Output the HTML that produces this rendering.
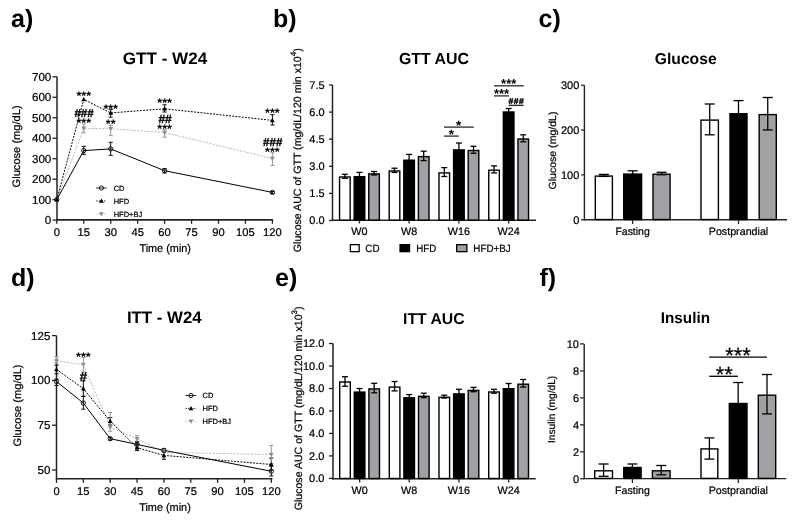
<!DOCTYPE html>
<html><head><meta charset="utf-8"><style>
html,body{margin:0;padding:0;background:#fff;}
svg{display:block;will-change:transform;}
text{font-family:"Liberation Sans", sans-serif;text-rendering:geometricPrecision;stroke:#000;stroke-width:0.22px;} text[font-weight=bold]{stroke-width:0;}
</style></head><body>
<svg width="793" height="520" viewBox="0 0 793 520">
<rect width="793" height="520" fill="#fff"/>
<text x="11" y="27" font-size="25" font-weight="bold" >a)</text>
<text x="273" y="27.2" font-size="25" font-weight="bold" >b)</text>
<text x="538.5" y="26.5" font-size="25" font-weight="bold" >c)</text>
<text x="11" y="286.2" font-size="25" font-weight="bold" >d)</text>
<text x="275" y="286.2" font-size="25" font-weight="bold" >e)</text>
<text x="539.5" y="285.7" font-size="25" font-weight="bold" >f)</text>
<line x1="57" y1="76.8" x2="57" y2="220.75" stroke="#222" stroke-width="1.5" />
<line x1="56.3" y1="219.95" x2="273.09999999999997" y2="219.95" stroke="#222" stroke-width="1.7" />
<line x1="52.5" y1="220.1" x2="57" y2="220.1" stroke="#222" stroke-width="1.3" />
<text x="51.3" y="224.2" font-size="11.6" text-anchor="end" >0</text>
<line x1="52.5" y1="199.63" x2="57" y2="199.63" stroke="#222" stroke-width="1.3" />
<text x="51.3" y="203.73" font-size="11.6" text-anchor="end" >100</text>
<line x1="52.5" y1="179.16" x2="57" y2="179.16" stroke="#222" stroke-width="1.3" />
<text x="51.3" y="183.26" font-size="11.6" text-anchor="end" >200</text>
<line x1="52.5" y1="158.69" x2="57" y2="158.69" stroke="#222" stroke-width="1.3" />
<text x="51.3" y="162.79" font-size="11.6" text-anchor="end" >300</text>
<line x1="52.5" y1="138.22" x2="57" y2="138.22" stroke="#222" stroke-width="1.3" />
<text x="51.3" y="142.32" font-size="11.6" text-anchor="end" >400</text>
<line x1="52.5" y1="117.75" x2="57" y2="117.75" stroke="#222" stroke-width="1.3" />
<text x="51.3" y="121.85" font-size="11.6" text-anchor="end" >500</text>
<line x1="52.5" y1="97.28" x2="57" y2="97.28" stroke="#222" stroke-width="1.3" />
<text x="51.3" y="101.38" font-size="11.6" text-anchor="end" >600</text>
<line x1="52.5" y1="76.81" x2="57" y2="76.81" stroke="#222" stroke-width="1.3" />
<text x="51.3" y="80.91" font-size="11.6" text-anchor="end" >700</text>
<line x1="56.8" y1="219.95" x2="56.8" y2="223.8" stroke="#222" stroke-width="1.3" />
<text x="56.8" y="236.3" font-size="11.2" text-anchor="middle" >0</text>
<line x1="83.75" y1="219.95" x2="83.75" y2="223.8" stroke="#222" stroke-width="1.3" />
<text x="83.75" y="236.3" font-size="11.2" text-anchor="middle" >15</text>
<line x1="110.69999999999999" y1="219.95" x2="110.69999999999999" y2="223.8" stroke="#222" stroke-width="1.3" />
<text x="110.69999999999999" y="236.3" font-size="11.2" text-anchor="middle" >30</text>
<line x1="137.64999999999998" y1="219.95" x2="137.64999999999998" y2="223.8" stroke="#222" stroke-width="1.3" />
<text x="137.64999999999998" y="236.3" font-size="11.2" text-anchor="middle" >45</text>
<line x1="164.6" y1="219.95" x2="164.6" y2="223.8" stroke="#222" stroke-width="1.3" />
<text x="164.6" y="236.3" font-size="11.2" text-anchor="middle" >60</text>
<line x1="191.55" y1="219.95" x2="191.55" y2="223.8" stroke="#222" stroke-width="1.3" />
<text x="191.55" y="236.3" font-size="11.2" text-anchor="middle" >75</text>
<line x1="218.5" y1="219.95" x2="218.5" y2="223.8" stroke="#222" stroke-width="1.3" />
<text x="218.5" y="236.3" font-size="11.2" text-anchor="middle" >90</text>
<line x1="245.45" y1="219.95" x2="245.45" y2="223.8" stroke="#222" stroke-width="1.3" />
<text x="245.45" y="236.3" font-size="11.2" text-anchor="middle" >105</text>
<line x1="272.4" y1="219.95" x2="272.4" y2="223.8" stroke="#222" stroke-width="1.3" />
<text x="272.4" y="236.3" font-size="11.2" text-anchor="middle" >120</text>
<text x="165.2" y="252.1" font-size="11.2" text-anchor="middle" textLength="51.6" lengthAdjust="spacingAndGlyphs" >Time (min)</text>
<text x="20.5" y="146.4" font-size="10.8" text-anchor="middle" textLength="82" lengthAdjust="spacingAndGlyphs" transform="rotate(-90 20.5 146.4)" >Glucose (mg/dL)</text>
<text x="165" y="64.4" font-size="16.6" font-weight="bold" text-anchor="middle" textLength="84.5" lengthAdjust="spacingAndGlyphs" >GTT - W24</text>
<polyline points="56.8,199.6 83.75,128.4 110.69999999999999,128.8 164.6,132.6 272.4,158.5" fill="none" stroke="#bdbdbd" stroke-width="1" stroke-dasharray="2.2 1.3"/>
<polyline points="56.8,199.6 83.75,99.4 110.69999999999999,112.9 164.6,108.8 272.4,120.4" fill="none" stroke="#000" stroke-width="1" stroke-dasharray="1.9 1.3"/>
<polyline points="56.8,199.6 83.75,150.6 110.69999999999999,148.9 164.6,170.7 272.4,192.4" fill="none" stroke="#000" stroke-width="1"/>
<line x1="83.75" y1="146.3" x2="83.75" y2="154.4" stroke="#111" stroke-width="1" />
<line x1="81.65" y1="146.3" x2="85.85" y2="146.3" stroke="#111" stroke-width="1" />
<line x1="81.65" y1="154.4" x2="85.85" y2="154.4" stroke="#111" stroke-width="1" />
<line x1="110.69999999999999" y1="142.3" x2="110.69999999999999" y2="155.3" stroke="#111" stroke-width="1" />
<line x1="108.6" y1="142.3" x2="112.79999999999998" y2="142.3" stroke="#111" stroke-width="1" />
<line x1="108.6" y1="155.3" x2="112.79999999999998" y2="155.3" stroke="#111" stroke-width="1" />
<line x1="164.6" y1="168.5" x2="164.6" y2="173" stroke="#111" stroke-width="1" />
<line x1="162.5" y1="168.5" x2="166.7" y2="168.5" stroke="#111" stroke-width="1" />
<line x1="162.5" y1="173" x2="166.7" y2="173" stroke="#111" stroke-width="1" />
<line x1="272.4" y1="191.5" x2="272.4" y2="193.5" stroke="#111" stroke-width="1" />
<line x1="270.29999999999995" y1="191.5" x2="274.5" y2="191.5" stroke="#111" stroke-width="1" />
<line x1="270.29999999999995" y1="193.5" x2="274.5" y2="193.5" stroke="#111" stroke-width="1" />
<line x1="110.69999999999999" y1="109.4" x2="110.69999999999999" y2="117.2" stroke="#111" stroke-width="1" />
<line x1="108.6" y1="109.4" x2="112.79999999999998" y2="109.4" stroke="#111" stroke-width="1" />
<line x1="108.6" y1="117.2" x2="112.79999999999998" y2="117.2" stroke="#111" stroke-width="1" />
<line x1="164.6" y1="104.8" x2="164.6" y2="112" stroke="#111" stroke-width="1" />
<line x1="162.5" y1="104.8" x2="166.7" y2="104.8" stroke="#111" stroke-width="1" />
<line x1="162.5" y1="112" x2="166.7" y2="112" stroke="#111" stroke-width="1" />
<line x1="272.4" y1="114.6" x2="272.4" y2="125" stroke="#111" stroke-width="1" />
<line x1="270.29999999999995" y1="114.6" x2="274.5" y2="114.6" stroke="#111" stroke-width="1" />
<line x1="270.29999999999995" y1="125" x2="274.5" y2="125" stroke="#111" stroke-width="1" />
<line x1="83.75" y1="124" x2="83.75" y2="132.8" stroke="#999" stroke-width="1" />
<line x1="81.65" y1="124" x2="85.85" y2="124" stroke="#999" stroke-width="1" />
<line x1="81.65" y1="132.8" x2="85.85" y2="132.8" stroke="#999" stroke-width="1" />
<line x1="110.69999999999999" y1="125.3" x2="110.69999999999999" y2="135.4" stroke="#999" stroke-width="1" />
<line x1="108.6" y1="125.3" x2="112.79999999999998" y2="125.3" stroke="#999" stroke-width="1" />
<line x1="108.6" y1="135.4" x2="112.79999999999998" y2="135.4" stroke="#999" stroke-width="1" />
<line x1="164.6" y1="129.6" x2="164.6" y2="137.2" stroke="#999" stroke-width="1" />
<line x1="162.5" y1="129.6" x2="166.7" y2="129.6" stroke="#999" stroke-width="1" />
<line x1="162.5" y1="137.2" x2="166.7" y2="137.2" stroke="#999" stroke-width="1" />
<line x1="272.4" y1="152.7" x2="272.4" y2="165.4" stroke="#999" stroke-width="1" />
<line x1="270.29999999999995" y1="152.7" x2="274.5" y2="152.7" stroke="#999" stroke-width="1" />
<line x1="270.29999999999995" y1="165.4" x2="274.5" y2="165.4" stroke="#999" stroke-width="1" />
<polygon points="56.8,202.12 59.199999999999996,197.79999999999998 54.4,197.79999999999998" fill="#8e8e8e"/>
<polygon points="83.75,130.92000000000002 86.15,126.60000000000001 81.35,126.60000000000001" fill="#8e8e8e"/>
<polygon points="110.69999999999999,131.32000000000002 113.1,127.00000000000001 108.29999999999998,127.00000000000001" fill="#8e8e8e"/>
<polygon points="164.6,135.12 167.0,130.79999999999998 162.2,130.79999999999998" fill="#8e8e8e"/>
<polygon points="272.4,161.02 274.79999999999995,156.7 270.0,156.7" fill="#8e8e8e"/>
<polygon points="56.8,197.07999999999998 59.199999999999996,201.4 54.4,201.4" fill="#000"/>
<polygon points="83.75,96.88000000000001 86.15,101.2 81.35,101.2" fill="#000"/>
<polygon points="110.69999999999999,110.38000000000001 113.1,114.7 108.29999999999998,114.7" fill="#000"/>
<polygon points="164.6,106.28 167.0,110.6 162.2,110.6" fill="#000"/>
<polygon points="272.4,117.88000000000001 274.79999999999995,122.2 270.0,122.2" fill="#000"/>
<circle cx="56.8" cy="199.6" r="2.15" fill="none" stroke="#111" stroke-width="0.95"/>
<circle cx="83.75" cy="150.6" r="2.15" fill="none" stroke="#111" stroke-width="0.95"/>
<circle cx="110.69999999999999" cy="148.9" r="2.15" fill="none" stroke="#111" stroke-width="0.95"/>
<circle cx="164.6" cy="170.7" r="2.15" fill="none" stroke="#111" stroke-width="0.95"/>
<circle cx="272.4" cy="192.4" r="2.15" fill="none" stroke="#111" stroke-width="0.95"/>
<text x="83.75" y="99.675" font-size="12.5" font-weight="bold" text-anchor="middle" letter-spacing="0.0">***</text>
<text x="84.05" y="116.9675" font-size="11.5" font-weight="bold" text-anchor="middle" letter-spacing="0.0" style="stroke:#000;stroke-width:0.35px">###</text>
<text x="83.75" y="126.875" font-size="12.5" font-weight="bold" text-anchor="middle" letter-spacing="0.0">***</text>
<text x="110.69999999999999" y="112.675" font-size="12.5" font-weight="bold" text-anchor="middle" letter-spacing="0.0">***</text>
<text x="110.69999999999999" y="127.875" font-size="12.5" font-weight="bold" text-anchor="middle" letter-spacing="0.0">**</text>
<text x="164.6" y="107.075" font-size="12.5" font-weight="bold" text-anchor="middle" letter-spacing="0.0">***</text>
<text x="165.1" y="122.84" font-size="12" font-weight="bold" text-anchor="middle" letter-spacing="0.0" style="stroke:#000;stroke-width:0.35px">##</text>
<text x="164.6" y="133.175" font-size="12.5" font-weight="bold" text-anchor="middle" letter-spacing="0.0">***</text>
<text x="272.4" y="117.475" font-size="12.5" font-weight="bold" text-anchor="middle" letter-spacing="0.0">***</text>
<text x="272.7" y="145.7675" font-size="11.5" font-weight="bold" text-anchor="middle" letter-spacing="0.0" style="stroke:#000;stroke-width:0.35px">###</text>
<text x="272.4" y="155.675" font-size="12.5" font-weight="bold" text-anchor="middle" letter-spacing="0.0">***</text>
<line x1="96.2" y1="188" x2="106.5" y2="188" stroke="#111" stroke-width="0.9" />
<circle cx="101.4" cy="188" r="2.15" fill="none" stroke="#111" stroke-width="0.95"/>
<text x="113.7" y="190.7" font-size="7.5" >CD</text>
<line x1="96.2" y1="201" x2="106.5" y2="201" stroke="#111" stroke-width="1" stroke-dasharray="1.3 1.3"/>
<polygon points="101.4,198.48 103.80000000000001,202.8 99.0,202.8" fill="#000"/>
<text x="113.7" y="203.7" font-size="7.5" >HFD</text>
<line x1="96.2" y1="214" x2="106.5" y2="214" stroke="#bbb" stroke-width="1" stroke-dasharray="1.3 1.3"/>
<polygon points="101.4,216.52 103.80000000000001,212.2 99.0,212.2" fill="#8e8e8e"/>
<text x="113.7" y="216.7" font-size="7.5" >HFD+BJ</text>
<line x1="332.5" y1="85" x2="332.5" y2="221.0" stroke="#222" stroke-width="1.5" />
<line x1="331.8" y1="220.3" x2="536" y2="220.3" stroke="#222" stroke-width="1.5" />
<line x1="329" y1="220.5" x2="332.5" y2="220.5" stroke="#222" stroke-width="1.3" />
<text x="324.6" y="224.4" font-size="11" text-anchor="end" >0.0</text>
<line x1="329" y1="193.395" x2="332.5" y2="193.395" stroke="#222" stroke-width="1.3" />
<text x="324.6" y="197.29500000000002" font-size="11" text-anchor="end" >1.5</text>
<line x1="329" y1="166.29" x2="332.5" y2="166.29" stroke="#222" stroke-width="1.3" />
<text x="324.6" y="170.19" font-size="11" text-anchor="end" >3.0</text>
<line x1="329" y1="139.185" x2="332.5" y2="139.185" stroke="#222" stroke-width="1.3" />
<text x="324.6" y="143.085" font-size="11" text-anchor="end" >4.5</text>
<line x1="329" y1="112.08" x2="332.5" y2="112.08" stroke="#222" stroke-width="1.3" />
<text x="324.6" y="115.98" font-size="11" text-anchor="end" >6.0</text>
<line x1="329" y1="84.975" x2="332.5" y2="84.975" stroke="#222" stroke-width="1.3" />
<text x="324.6" y="88.875" font-size="11" text-anchor="end" >7.5</text>
<line x1="359.45" y1="220.3" x2="359.45" y2="223.5" stroke="#222" stroke-width="1.3" />
<text x="359.45" y="235.0" font-size="10.8" text-anchor="middle" >W0</text>
<line x1="409.1" y1="220.3" x2="409.1" y2="223.5" stroke="#222" stroke-width="1.3" />
<text x="409.1" y="235.0" font-size="10.8" text-anchor="middle" >W8</text>
<line x1="458.9" y1="220.3" x2="458.9" y2="223.5" stroke="#222" stroke-width="1.3" />
<text x="458.9" y="235.0" font-size="10.8" text-anchor="middle" >W16</text>
<line x1="508.65" y1="220.3" x2="508.65" y2="223.5" stroke="#222" stroke-width="1.3" />
<text x="508.65" y="235.0" font-size="10.8" text-anchor="middle" >W24</text>
<text x="301" y="150.2" font-size="10.6" text-anchor="middle" transform="rotate(-90 301 150.2)" >Glucose AUC of GTT (mg/dL/120 min x10<tspan dy="-4.5" font-size="8">4</tspan><tspan dy="4.5">)</tspan></text>
<text x="433.9" y="63.7" font-size="16" font-weight="bold" text-anchor="middle" textLength="70" lengthAdjust="spacingAndGlyphs" >GTT AUC</text>
<rect x="339.55" y="177.00" width="10.60" height="43.10" fill="#fff" stroke="#000" stroke-width="1.4"/>
<rect x="354.15" y="176.70" width="10.60" height="43.40" fill="#000" stroke="#000" stroke-width="1.4"/>
<rect x="368.75" y="173.90" width="10.60" height="46.20" fill="#a1a0a5" stroke="#000" stroke-width="1.4"/>
<line x1="344.84999999999997" y1="174.3" x2="344.84999999999997" y2="178.3" stroke="#000" stroke-width="1.3" />
<line x1="341.84999999999997" y1="174.3" x2="347.84999999999997" y2="174.3" stroke="#000" stroke-width="1.3" />
<line x1="341.84999999999997" y1="178.3" x2="347.84999999999997" y2="178.3" stroke="#000" stroke-width="1.3" />
<line x1="359.45" y1="172.4" x2="359.45" y2="179.6" stroke="#000" stroke-width="1.3" />
<line x1="356.45" y1="172.4" x2="362.45" y2="172.4" stroke="#000" stroke-width="1.3" />
<line x1="356.45" y1="179.6" x2="362.45" y2="179.6" stroke="#000" stroke-width="1.3" />
<line x1="374.05" y1="171.5" x2="374.05" y2="175" stroke="#000" stroke-width="1.3" />
<line x1="371.05" y1="171.5" x2="377.05" y2="171.5" stroke="#000" stroke-width="1.3" />
<line x1="371.05" y1="175" x2="377.05" y2="175" stroke="#000" stroke-width="1.3" />
<rect x="389.20" y="171.00" width="10.60" height="49.10" fill="#fff" stroke="#000" stroke-width="1.4"/>
<rect x="403.80" y="160.20" width="10.60" height="59.90" fill="#000" stroke="#000" stroke-width="1.4"/>
<rect x="418.40" y="156.60" width="10.60" height="63.50" fill="#a1a0a5" stroke="#000" stroke-width="1.4"/>
<line x1="394.5" y1="168.2" x2="394.5" y2="172.4" stroke="#000" stroke-width="1.3" />
<line x1="391.5" y1="168.2" x2="397.5" y2="168.2" stroke="#000" stroke-width="1.3" />
<line x1="391.5" y1="172.4" x2="397.5" y2="172.4" stroke="#000" stroke-width="1.3" />
<line x1="409.1" y1="154.4" x2="409.1" y2="164.6" stroke="#000" stroke-width="1.3" />
<line x1="406.1" y1="154.4" x2="412.1" y2="154.4" stroke="#000" stroke-width="1.3" />
<line x1="406.1" y1="164.6" x2="412.1" y2="164.6" stroke="#000" stroke-width="1.3" />
<line x1="423.70000000000005" y1="151.2" x2="423.70000000000005" y2="160.6" stroke="#000" stroke-width="1.3" />
<line x1="420.70000000000005" y1="151.2" x2="426.70000000000005" y2="151.2" stroke="#000" stroke-width="1.3" />
<line x1="420.70000000000005" y1="160.6" x2="426.70000000000005" y2="160.6" stroke="#000" stroke-width="1.3" />
<rect x="439.00" y="172.90" width="10.60" height="47.20" fill="#fff" stroke="#000" stroke-width="1.4"/>
<rect x="453.60" y="149.90" width="10.60" height="70.20" fill="#000" stroke="#000" stroke-width="1.4"/>
<rect x="468.20" y="150.50" width="10.60" height="69.60" fill="#a1a0a5" stroke="#000" stroke-width="1.4"/>
<line x1="444.29999999999995" y1="167.6" x2="444.29999999999995" y2="176.5" stroke="#000" stroke-width="1.3" />
<line x1="441.29999999999995" y1="167.6" x2="447.29999999999995" y2="167.6" stroke="#000" stroke-width="1.3" />
<line x1="441.29999999999995" y1="176.5" x2="447.29999999999995" y2="176.5" stroke="#000" stroke-width="1.3" />
<line x1="458.9" y1="143" x2="458.9" y2="155.4" stroke="#000" stroke-width="1.3" />
<line x1="455.9" y1="143" x2="461.9" y2="143" stroke="#000" stroke-width="1.3" />
<line x1="455.9" y1="155.4" x2="461.9" y2="155.4" stroke="#000" stroke-width="1.3" />
<line x1="473.5" y1="146.3" x2="473.5" y2="153.3" stroke="#000" stroke-width="1.3" />
<line x1="470.5" y1="146.3" x2="476.5" y2="146.3" stroke="#000" stroke-width="1.3" />
<line x1="470.5" y1="153.3" x2="476.5" y2="153.3" stroke="#000" stroke-width="1.3" />
<rect x="488.75" y="170.20" width="10.60" height="49.90" fill="#fff" stroke="#000" stroke-width="1.4"/>
<rect x="503.35" y="112.00" width="10.60" height="108.10" fill="#000" stroke="#000" stroke-width="1.4"/>
<rect x="517.95" y="139.00" width="10.60" height="81.10" fill="#a1a0a5" stroke="#000" stroke-width="1.4"/>
<line x1="494.04999999999995" y1="165.9" x2="494.04999999999995" y2="172.9" stroke="#000" stroke-width="1.3" />
<line x1="491.04999999999995" y1="165.9" x2="497.04999999999995" y2="165.9" stroke="#000" stroke-width="1.3" />
<line x1="491.04999999999995" y1="172.9" x2="497.04999999999995" y2="172.9" stroke="#000" stroke-width="1.3" />
<line x1="508.65" y1="108.5" x2="508.65" y2="114.1" stroke="#000" stroke-width="1.3" />
<line x1="505.65" y1="108.5" x2="511.65" y2="108.5" stroke="#000" stroke-width="1.3" />
<line x1="505.65" y1="114.1" x2="511.65" y2="114.1" stroke="#000" stroke-width="1.3" />
<line x1="523.25" y1="134.8" x2="523.25" y2="141.8" stroke="#000" stroke-width="1.3" />
<line x1="520.25" y1="134.8" x2="526.25" y2="134.8" stroke="#000" stroke-width="1.3" />
<line x1="520.25" y1="141.8" x2="526.25" y2="141.8" stroke="#000" stroke-width="1.3" />
<line x1="444" y1="136.1" x2="458.8" y2="136.1" stroke="#2a2a2a" stroke-width="1.3" />
<text x="451.5" y="138.545" font-size="13.5" font-weight="bold" text-anchor="middle" letter-spacing="0.0">*</text>
<line x1="444" y1="127.1" x2="473.8" y2="127.1" stroke="#2a2a2a" stroke-width="1.3" />
<text x="458.75" y="129.54500000000002" font-size="13.5" font-weight="bold" text-anchor="middle" letter-spacing="0.0">*</text>
<line x1="494" y1="85.8" x2="523.7" y2="85.8" stroke="#2a2a2a" stroke-width="1.3" />
<text x="508.7" y="88.41" font-size="13" font-weight="bold" text-anchor="middle" letter-spacing="0.0">***</text>
<line x1="494" y1="95.9" x2="509" y2="95.9" stroke="#2a2a2a" stroke-width="1.3" />
<text x="501.5" y="98.11" font-size="13" font-weight="bold" text-anchor="middle" letter-spacing="0.0">***</text>
<line x1="508.7" y1="105.4" x2="523.7" y2="105.4" stroke="#2a2a2a" stroke-width="1.3" />
<text x="516.45" y="103.6825" font-size="8.5" font-weight="bold" text-anchor="middle" letter-spacing="0.5" style="stroke:#000;stroke-width:0.35px">###</text>
<rect x="350.35" y="244.65" width="8.80" height="7.00" fill="#fff" stroke="#000" stroke-width="1.3"/>
<text x="365.3" y="252.0" font-size="10.5" textLength="14.2" lengthAdjust="spacingAndGlyphs" >CD</text>
<rect x="400.05" y="244.65" width="9.50" height="7.00" fill="#000" stroke="#000" stroke-width="1.3"/>
<text x="416.3" y="252.0" font-size="10.5" textLength="20" lengthAdjust="spacingAndGlyphs" >HFD</text>
<rect x="456.65" y="244.65" width="10.20" height="7.00" fill="#a1a0a5" stroke="#000" stroke-width="1.3"/>
<text x="473.3" y="252.0" font-size="10.5" textLength="37.4" lengthAdjust="spacingAndGlyphs" >HFD+BJ</text>
<line x1="584.4" y1="85.2" x2="584.4" y2="220.45" stroke="#222" stroke-width="1.4" />
<line x1="583.6999999999999" y1="219.75" x2="787" y2="219.75" stroke="#222" stroke-width="1.4" />
<line x1="581" y1="219.7" x2="584.4" y2="219.7" stroke="#222" stroke-width="1.2" />
<text x="579.3" y="223.6" font-size="11" text-anchor="end" >0</text>
<line x1="581" y1="174.87" x2="584.4" y2="174.87" stroke="#222" stroke-width="1.2" />
<text x="579.3" y="178.77" font-size="11" text-anchor="end" >100</text>
<line x1="581" y1="130.04" x2="584.4" y2="130.04" stroke="#222" stroke-width="1.2" />
<text x="579.3" y="133.94" font-size="11" text-anchor="end" >200</text>
<line x1="581" y1="85.21000000000001" x2="584.4" y2="85.21000000000001" stroke="#222" stroke-width="1.2" />
<text x="579.3" y="89.11000000000001" font-size="11" text-anchor="end" >300</text>
<line x1="632.6" y1="219.75" x2="632.6" y2="224" stroke="#222" stroke-width="1.3" />
<text x="632.6" y="234.7" font-size="10.8" text-anchor="middle" textLength="34.3" lengthAdjust="spacingAndGlyphs" >Fasting</text>
<line x1="738.5" y1="219.75" x2="738.5" y2="224" stroke="#222" stroke-width="1.3" />
<text x="738.5" y="234.7" font-size="10.8" text-anchor="middle" textLength="59.5" lengthAdjust="spacingAndGlyphs" >Postprandial</text>
<text x="555.6" y="150.5" font-size="10.3" text-anchor="middle" textLength="77.9" lengthAdjust="spacingAndGlyphs" transform="rotate(-90 555.6 150.5)" >Glucose (mg/dL)</text>
<text x="685.7" y="64.3" font-size="15.6" font-weight="bold" text-anchor="middle" textLength="61.8" lengthAdjust="spacingAndGlyphs" >Glucose</text>
<rect x="595.30" y="176.10" width="17.10" height="43.45" fill="#fff" stroke="#000" stroke-width="1.4"/>
<rect x="623.70" y="174.10" width="17.90" height="45.45" fill="#000" stroke="#000" stroke-width="1.4"/>
<rect x="653.00" y="174.20" width="17.10" height="45.35" fill="#a1a0a5" stroke="#000" stroke-width="1.4"/>
<rect x="701.00" y="120.10" width="17.40" height="99.45" fill="#fff" stroke="#000" stroke-width="1.4"/>
<rect x="730.00" y="113.70" width="17.00" height="105.85" fill="#000" stroke="#000" stroke-width="1.4"/>
<rect x="759.20" y="114.60" width="17.10" height="104.95" fill="#a1a0a5" stroke="#000" stroke-width="1.4"/>
<line x1="603.85" y1="174.4" x2="603.85" y2="176.4" stroke="#000" stroke-width="1.3" />
<line x1="598.85" y1="174.4" x2="608.85" y2="174.4" stroke="#000" stroke-width="1.3" />
<line x1="598.85" y1="176.4" x2="608.85" y2="176.4" stroke="#000" stroke-width="1.3" />
<line x1="632.65" y1="170.8" x2="632.65" y2="176" stroke="#000" stroke-width="1.3" />
<line x1="627.65" y1="170.8" x2="637.65" y2="170.8" stroke="#000" stroke-width="1.3" />
<line x1="627.65" y1="176" x2="637.65" y2="176" stroke="#000" stroke-width="1.3" />
<line x1="661.55" y1="172.3" x2="661.55" y2="174.7" stroke="#000" stroke-width="1.3" />
<line x1="656.55" y1="172.3" x2="666.55" y2="172.3" stroke="#000" stroke-width="1.3" />
<line x1="656.55" y1="174.7" x2="666.55" y2="174.7" stroke="#000" stroke-width="1.3" />
<line x1="709.7" y1="104" x2="709.7" y2="134.8" stroke="#000" stroke-width="1.3" />
<line x1="704.7" y1="104" x2="714.7" y2="104" stroke="#000" stroke-width="1.3" />
<line x1="704.7" y1="134.8" x2="714.7" y2="134.8" stroke="#000" stroke-width="1.3" />
<line x1="738.5" y1="100.6" x2="738.5" y2="125.4" stroke="#000" stroke-width="1.3" />
<line x1="733.5" y1="100.6" x2="743.5" y2="100.6" stroke="#000" stroke-width="1.3" />
<line x1="733.5" y1="125.4" x2="743.5" y2="125.4" stroke="#000" stroke-width="1.3" />
<line x1="767.75" y1="97.5" x2="767.75" y2="129.9" stroke="#000" stroke-width="1.3" />
<line x1="762.75" y1="97.5" x2="772.75" y2="97.5" stroke="#000" stroke-width="1.3" />
<line x1="762.75" y1="129.9" x2="772.75" y2="129.9" stroke="#000" stroke-width="1.3" />
<line x1="56.5" y1="335.6" x2="56.5" y2="479.4" stroke="#222" stroke-width="1.5" />
<line x1="55.8" y1="478.7" x2="272.4" y2="478.7" stroke="#222" stroke-width="1.5" />
<line x1="52" y1="470.0" x2="56.5" y2="470.0" stroke="#222" stroke-width="1.3" />
<text x="50.3" y="474.0" font-size="11.5" text-anchor="end" >50</text>
<line x1="52" y1="425.2" x2="56.5" y2="425.2" stroke="#222" stroke-width="1.3" />
<text x="50.3" y="429.2" font-size="11.5" text-anchor="end" >75</text>
<line x1="52" y1="380.4" x2="56.5" y2="380.4" stroke="#222" stroke-width="1.3" />
<text x="50.3" y="384.4" font-size="11.5" text-anchor="end" >100</text>
<line x1="52" y1="335.6" x2="56.5" y2="335.6" stroke="#222" stroke-width="1.3" />
<text x="50.3" y="339.6" font-size="11.5" text-anchor="end" >125</text>
<line x1="56.5" y1="478.7" x2="56.5" y2="482.8" stroke="#222" stroke-width="1.3" />
<text x="56.5" y="495.4" font-size="11.2" text-anchor="middle" >0</text>
<line x1="83.35" y1="478.7" x2="83.35" y2="482.8" stroke="#222" stroke-width="1.3" />
<text x="83.35" y="495.4" font-size="11.2" text-anchor="middle" >15</text>
<line x1="110.2" y1="478.7" x2="110.2" y2="482.8" stroke="#222" stroke-width="1.3" />
<text x="110.2" y="495.4" font-size="11.2" text-anchor="middle" >30</text>
<line x1="137.05" y1="478.7" x2="137.05" y2="482.8" stroke="#222" stroke-width="1.3" />
<text x="137.05" y="495.4" font-size="11.2" text-anchor="middle" >45</text>
<line x1="163.9" y1="478.7" x2="163.9" y2="482.8" stroke="#222" stroke-width="1.3" />
<text x="163.9" y="495.4" font-size="11.2" text-anchor="middle" >60</text>
<line x1="190.75" y1="478.7" x2="190.75" y2="482.8" stroke="#222" stroke-width="1.3" />
<text x="190.75" y="495.4" font-size="11.2" text-anchor="middle" >75</text>
<line x1="217.6" y1="478.7" x2="217.6" y2="482.8" stroke="#222" stroke-width="1.3" />
<text x="217.6" y="495.4" font-size="11.2" text-anchor="middle" >90</text>
<line x1="244.45" y1="478.7" x2="244.45" y2="482.8" stroke="#222" stroke-width="1.3" />
<text x="244.45" y="495.4" font-size="11.2" text-anchor="middle" >105</text>
<line x1="271.3" y1="478.7" x2="271.3" y2="482.8" stroke="#222" stroke-width="1.3" />
<text x="271.3" y="495.4" font-size="11.2" text-anchor="middle" >120</text>
<text x="165" y="511" font-size="11.2" text-anchor="middle" textLength="51.6" lengthAdjust="spacingAndGlyphs" >Time (min)</text>
<text x="20.5" y="405.5" font-size="10.8" text-anchor="middle" textLength="82" lengthAdjust="spacingAndGlyphs" transform="rotate(-90 20.5 405.5)" >Glucose (mg/dL)</text>
<text x="164.3" y="322.7" font-size="16.6" font-weight="bold" text-anchor="middle" textLength="74.8" lengthAdjust="spacingAndGlyphs" >ITT - W24</text>
<polyline points="56.5,361 83.35,364.6 110.2,427 137.05,438.7 163.9,452.4 271.3,454.5" fill="none" stroke="#bdbdbd" stroke-width="1" stroke-dasharray="2.2 1.3"/>
<polyline points="56.5,369.4 83.35,388.7 110.2,421.1 137.05,447.6 163.9,455.4 271.3,464.5" fill="none" stroke="#000" stroke-width="1" stroke-dasharray="1.9 1.3"/>
<polyline points="56.5,381.5 83.35,403 110.2,438.7 137.05,444.4 163.9,450.3 271.3,471.25" fill="none" stroke="#000" stroke-width="1"/>
<line x1="56.5" y1="379.1" x2="56.5" y2="385.4" stroke="#111" stroke-width="1" />
<line x1="54.4" y1="379.1" x2="58.6" y2="379.1" stroke="#111" stroke-width="1" />
<line x1="54.4" y1="385.4" x2="58.6" y2="385.4" stroke="#111" stroke-width="1" />
<line x1="83.35" y1="396.5" x2="83.35" y2="409.2" stroke="#111" stroke-width="1" />
<line x1="81.25" y1="396.5" x2="85.44999999999999" y2="396.5" stroke="#111" stroke-width="1" />
<line x1="81.25" y1="409.2" x2="85.44999999999999" y2="409.2" stroke="#111" stroke-width="1" />
<line x1="110.2" y1="437.5" x2="110.2" y2="440" stroke="#111" stroke-width="1" />
<line x1="108.10000000000001" y1="437.5" x2="112.3" y2="437.5" stroke="#111" stroke-width="1" />
<line x1="108.10000000000001" y1="440" x2="112.3" y2="440" stroke="#111" stroke-width="1" />
<line x1="137.05" y1="441.5" x2="137.05" y2="448" stroke="#111" stroke-width="1" />
<line x1="134.95000000000002" y1="441.5" x2="139.15" y2="441.5" stroke="#111" stroke-width="1" />
<line x1="134.95000000000002" y1="448" x2="139.15" y2="448" stroke="#111" stroke-width="1" />
<line x1="163.9" y1="448.6" x2="163.9" y2="452" stroke="#111" stroke-width="1" />
<line x1="161.8" y1="448.6" x2="166.0" y2="448.6" stroke="#111" stroke-width="1" />
<line x1="161.8" y1="452" x2="166.0" y2="452" stroke="#111" stroke-width="1" />
<line x1="271.3" y1="466" x2="271.3" y2="476" stroke="#111" stroke-width="1" />
<line x1="269.2" y1="466" x2="273.40000000000003" y2="466" stroke="#111" stroke-width="1" />
<line x1="269.2" y1="476" x2="273.40000000000003" y2="476" stroke="#111" stroke-width="1" />
<line x1="56.5" y1="365.2" x2="56.5" y2="373.8" stroke="#111" stroke-width="1" />
<line x1="54.4" y1="365.2" x2="58.6" y2="365.2" stroke="#111" stroke-width="1" />
<line x1="54.4" y1="373.8" x2="58.6" y2="373.8" stroke="#111" stroke-width="1" />
<line x1="83.35" y1="380.8" x2="83.35" y2="396.2" stroke="#111" stroke-width="1" />
<line x1="81.25" y1="380.8" x2="85.44999999999999" y2="380.8" stroke="#111" stroke-width="1" />
<line x1="81.25" y1="396.2" x2="85.44999999999999" y2="396.2" stroke="#111" stroke-width="1" />
<line x1="110.2" y1="417.5" x2="110.2" y2="425" stroke="#111" stroke-width="1" />
<line x1="108.10000000000001" y1="417.5" x2="112.3" y2="417.5" stroke="#111" stroke-width="1" />
<line x1="108.10000000000001" y1="425" x2="112.3" y2="425" stroke="#111" stroke-width="1" />
<line x1="137.05" y1="443" x2="137.05" y2="450.6" stroke="#111" stroke-width="1" />
<line x1="134.95000000000002" y1="443" x2="139.15" y2="443" stroke="#111" stroke-width="1" />
<line x1="134.95000000000002" y1="450.6" x2="139.15" y2="450.6" stroke="#111" stroke-width="1" />
<line x1="163.9" y1="451.2" x2="163.9" y2="459.2" stroke="#111" stroke-width="1" />
<line x1="161.8" y1="451.2" x2="166.0" y2="451.2" stroke="#111" stroke-width="1" />
<line x1="161.8" y1="459.2" x2="166.0" y2="459.2" stroke="#111" stroke-width="1" />
<line x1="271.3" y1="458" x2="271.3" y2="470" stroke="#111" stroke-width="1" />
<line x1="269.2" y1="458" x2="273.40000000000003" y2="458" stroke="#111" stroke-width="1" />
<line x1="269.2" y1="470" x2="273.40000000000003" y2="470" stroke="#111" stroke-width="1" />
<line x1="56.5" y1="356.5" x2="56.5" y2="363.3" stroke="#999" stroke-width="1" />
<line x1="54.4" y1="356.5" x2="58.6" y2="356.5" stroke="#999" stroke-width="1" />
<line x1="54.4" y1="363.3" x2="58.6" y2="363.3" stroke="#999" stroke-width="1" />
<line x1="83.35" y1="357.5" x2="83.35" y2="372" stroke="#999" stroke-width="1" />
<line x1="81.25" y1="357.5" x2="85.44999999999999" y2="357.5" stroke="#999" stroke-width="1" />
<line x1="81.25" y1="372" x2="85.44999999999999" y2="372" stroke="#999" stroke-width="1" />
<line x1="110.2" y1="412.5" x2="110.2" y2="431.3" stroke="#999" stroke-width="1" />
<line x1="108.10000000000001" y1="412.5" x2="112.3" y2="412.5" stroke="#999" stroke-width="1" />
<line x1="108.10000000000001" y1="431.3" x2="112.3" y2="431.3" stroke="#999" stroke-width="1" />
<line x1="137.05" y1="435.6" x2="137.05" y2="442.5" stroke="#999" stroke-width="1" />
<line x1="134.95000000000002" y1="435.6" x2="139.15" y2="435.6" stroke="#999" stroke-width="1" />
<line x1="134.95000000000002" y1="442.5" x2="139.15" y2="442.5" stroke="#999" stroke-width="1" />
<line x1="163.9" y1="449" x2="163.9" y2="455.5" stroke="#999" stroke-width="1" />
<line x1="161.8" y1="449" x2="166.0" y2="449" stroke="#999" stroke-width="1" />
<line x1="161.8" y1="455.5" x2="166.0" y2="455.5" stroke="#999" stroke-width="1" />
<line x1="271.3" y1="445.5" x2="271.3" y2="463.5" stroke="#999" stroke-width="1" />
<line x1="269.2" y1="445.5" x2="273.40000000000003" y2="445.5" stroke="#999" stroke-width="1" />
<line x1="269.2" y1="463.5" x2="273.40000000000003" y2="463.5" stroke="#999" stroke-width="1" />
<polygon points="56.5,363.52 58.9,359.2 54.1,359.2" fill="#8e8e8e"/>
<polygon points="83.35,367.12 85.75,362.8 80.94999999999999,362.8" fill="#8e8e8e"/>
<polygon points="110.2,429.52 112.60000000000001,425.2 107.8,425.2" fill="#8e8e8e"/>
<polygon points="137.05,441.21999999999997 139.45000000000002,436.9 134.65,436.9" fill="#8e8e8e"/>
<polygon points="163.9,454.91999999999996 166.3,450.59999999999997 161.5,450.59999999999997" fill="#8e8e8e"/>
<polygon points="271.3,457.02 273.7,452.7 268.90000000000003,452.7" fill="#8e8e8e"/>
<polygon points="56.5,366.88 58.9,371.2 54.1,371.2" fill="#000"/>
<polygon points="83.35,386.18 85.75,390.5 80.94999999999999,390.5" fill="#000"/>
<polygon points="110.2,418.58000000000004 112.60000000000001,422.90000000000003 107.8,422.90000000000003" fill="#000"/>
<polygon points="137.05,445.08000000000004 139.45000000000002,449.40000000000003 134.65,449.40000000000003" fill="#000"/>
<polygon points="163.9,452.88 166.3,457.2 161.5,457.2" fill="#000"/>
<polygon points="271.3,461.98 273.7,466.3 268.90000000000003,466.3" fill="#000"/>
<circle cx="56.5" cy="381.5" r="2.15" fill="none" stroke="#111" stroke-width="0.95"/>
<circle cx="83.35" cy="403" r="2.15" fill="none" stroke="#111" stroke-width="0.95"/>
<circle cx="110.2" cy="438.7" r="2.15" fill="none" stroke="#111" stroke-width="0.95"/>
<circle cx="137.05" cy="444.4" r="2.15" fill="none" stroke="#111" stroke-width="0.95"/>
<circle cx="163.9" cy="450.3" r="2.15" fill="none" stroke="#111" stroke-width="0.95"/>
<circle cx="271.3" cy="471.25" r="2.15" fill="none" stroke="#111" stroke-width="0.95"/>
<text x="83.35" y="361.075" font-size="12.5" font-weight="bold" text-anchor="middle" letter-spacing="0.0">***</text>
<text x="83.35" y="381.485" font-size="13" font-weight="bold" text-anchor="middle" letter-spacing="0.0" style="stroke:#000;stroke-width:0.35px">#</text>
<line x1="185.5" y1="395.5" x2="196.3" y2="395.5" stroke="#111" stroke-width="0.9" />
<circle cx="191" cy="395.5" r="2.15" fill="none" stroke="#111" stroke-width="0.95"/>
<text x="202.5" y="398.2" font-size="7.5" >CD</text>
<line x1="185.5" y1="408.4" x2="196.3" y2="408.4" stroke="#111" stroke-width="1" stroke-dasharray="1.3 1.3"/>
<polygon points="191,405.88 193.4,410.2 188.6,410.2" fill="#000"/>
<text x="202.5" y="411.09999999999997" font-size="7.5" >HFD</text>
<line x1="185.5" y1="421.3" x2="196.3" y2="421.3" stroke="#bbb" stroke-width="1" stroke-dasharray="1.3 1.3"/>
<polygon points="191,423.82 193.4,419.5 188.6,419.5" fill="#8e8e8e"/>
<text x="202.5" y="424.0" font-size="7.5" >HFD+BJ</text>
<line x1="333.0" y1="343.5" x2="333.0" y2="479.4" stroke="#222" stroke-width="1.5" />
<line x1="332.3" y1="478.7" x2="535.8" y2="478.7" stroke="#222" stroke-width="1.5" />
<line x1="329" y1="478.4" x2="333.0" y2="478.4" stroke="#222" stroke-width="1.3" />
<text x="324.4" y="482.29999999999995" font-size="11" text-anchor="end" >0.0</text>
<line x1="329" y1="455.91999999999996" x2="333.0" y2="455.91999999999996" stroke="#222" stroke-width="1.3" />
<text x="324.4" y="459.81999999999994" font-size="11" text-anchor="end" >2.0</text>
<line x1="329" y1="433.44" x2="333.0" y2="433.44" stroke="#222" stroke-width="1.3" />
<text x="324.4" y="437.34" font-size="11" text-anchor="end" >4.0</text>
<line x1="329" y1="410.96" x2="333.0" y2="410.96" stroke="#222" stroke-width="1.3" />
<text x="324.4" y="414.85999999999996" font-size="11" text-anchor="end" >6.0</text>
<line x1="329" y1="388.47999999999996" x2="333.0" y2="388.47999999999996" stroke="#222" stroke-width="1.3" />
<text x="324.4" y="392.37999999999994" font-size="11" text-anchor="end" >8.0</text>
<line x1="329" y1="366.0" x2="333.0" y2="366.0" stroke="#222" stroke-width="1.3" />
<text x="324.4" y="369.9" font-size="11" text-anchor="end" >10.0</text>
<line x1="329" y1="343.52" x2="333.0" y2="343.52" stroke="#222" stroke-width="1.3" />
<text x="324.4" y="347.41999999999996" font-size="11" text-anchor="end" >12.0</text>
<line x1="359.6" y1="478.7" x2="359.6" y2="482.5" stroke="#222" stroke-width="1.3" />
<text x="359.6" y="493.5" font-size="10.8" text-anchor="middle" >W0</text>
<line x1="409.2" y1="478.7" x2="409.2" y2="482.5" stroke="#222" stroke-width="1.3" />
<text x="409.2" y="493.5" font-size="10.8" text-anchor="middle" >W8</text>
<line x1="458.9" y1="478.7" x2="458.9" y2="482.5" stroke="#222" stroke-width="1.3" />
<text x="458.9" y="493.5" font-size="10.8" text-anchor="middle" >W16</text>
<line x1="508.6" y1="478.7" x2="508.6" y2="482.5" stroke="#222" stroke-width="1.3" />
<text x="508.6" y="493.5" font-size="10.8" text-anchor="middle" >W24</text>
<text x="301.7" y="408.4" font-size="10.6" text-anchor="middle" transform="rotate(-90 301.7 408.4)" >Glucose AUC of GTT (mg/dL/120 min x10<tspan dy="-4.5" font-size="8">3</tspan><tspan dy="4.5">)</tspan></text>
<text x="433.8" y="323.8" font-size="15.8" font-weight="bold" text-anchor="middle" textLength="61.6" lengthAdjust="spacingAndGlyphs" >ITT AUC</text>
<rect x="339.70" y="382.00" width="10.60" height="96.50" fill="#fff" stroke="#000" stroke-width="1.4"/>
<rect x="354.30" y="392.10" width="10.60" height="86.40" fill="#000" stroke="#000" stroke-width="1.4"/>
<rect x="368.90" y="388.90" width="10.60" height="89.60" fill="#a1a0a5" stroke="#000" stroke-width="1.4"/>
<line x1="345.0" y1="376.7" x2="345.0" y2="386.2" stroke="#000" stroke-width="1.3" />
<line x1="342.0" y1="376.7" x2="348.0" y2="376.7" stroke="#000" stroke-width="1.3" />
<line x1="342.0" y1="386.2" x2="348.0" y2="386.2" stroke="#000" stroke-width="1.3" />
<line x1="359.6" y1="388.5" x2="359.6" y2="394.3" stroke="#000" stroke-width="1.3" />
<line x1="356.6" y1="388.5" x2="362.6" y2="388.5" stroke="#000" stroke-width="1.3" />
<line x1="356.6" y1="394.3" x2="362.6" y2="394.3" stroke="#000" stroke-width="1.3" />
<line x1="374.20000000000005" y1="383.3" x2="374.20000000000005" y2="392.8" stroke="#000" stroke-width="1.3" />
<line x1="371.20000000000005" y1="383.3" x2="377.20000000000005" y2="383.3" stroke="#000" stroke-width="1.3" />
<line x1="371.20000000000005" y1="392.8" x2="377.20000000000005" y2="392.8" stroke="#000" stroke-width="1.3" />
<rect x="389.30" y="387.10" width="10.60" height="91.40" fill="#fff" stroke="#000" stroke-width="1.4"/>
<rect x="403.90" y="397.80" width="10.60" height="80.70" fill="#000" stroke="#000" stroke-width="1.4"/>
<rect x="418.50" y="396.30" width="10.60" height="82.20" fill="#a1a0a5" stroke="#000" stroke-width="1.4"/>
<line x1="394.59999999999997" y1="381.5" x2="394.59999999999997" y2="390.9" stroke="#000" stroke-width="1.3" />
<line x1="391.59999999999997" y1="381.5" x2="397.59999999999997" y2="381.5" stroke="#000" stroke-width="1.3" />
<line x1="391.59999999999997" y1="390.9" x2="397.59999999999997" y2="390.9" stroke="#000" stroke-width="1.3" />
<line x1="409.2" y1="394.6" x2="409.2" y2="399.6" stroke="#000" stroke-width="1.3" />
<line x1="406.2" y1="394.6" x2="412.2" y2="394.6" stroke="#000" stroke-width="1.3" />
<line x1="406.2" y1="399.6" x2="412.2" y2="399.6" stroke="#000" stroke-width="1.3" />
<line x1="423.8" y1="393.2" x2="423.8" y2="397.7" stroke="#000" stroke-width="1.3" />
<line x1="420.8" y1="393.2" x2="426.8" y2="393.2" stroke="#000" stroke-width="1.3" />
<line x1="420.8" y1="397.7" x2="426.8" y2="397.7" stroke="#000" stroke-width="1.3" />
<rect x="439.00" y="397.30" width="10.60" height="81.20" fill="#fff" stroke="#000" stroke-width="1.4"/>
<rect x="453.60" y="393.90" width="10.60" height="84.60" fill="#000" stroke="#000" stroke-width="1.4"/>
<rect x="468.20" y="390.40" width="10.60" height="88.10" fill="#a1a0a5" stroke="#000" stroke-width="1.4"/>
<line x1="444.29999999999995" y1="395.2" x2="444.29999999999995" y2="398.1" stroke="#000" stroke-width="1.3" />
<line x1="441.29999999999995" y1="395.2" x2="447.29999999999995" y2="395.2" stroke="#000" stroke-width="1.3" />
<line x1="441.29999999999995" y1="398.1" x2="447.29999999999995" y2="398.1" stroke="#000" stroke-width="1.3" />
<line x1="458.9" y1="389.3" x2="458.9" y2="397.1" stroke="#000" stroke-width="1.3" />
<line x1="455.9" y1="389.3" x2="461.9" y2="389.3" stroke="#000" stroke-width="1.3" />
<line x1="455.9" y1="397.1" x2="461.9" y2="397.1" stroke="#000" stroke-width="1.3" />
<line x1="473.5" y1="387.4" x2="473.5" y2="391.7" stroke="#000" stroke-width="1.3" />
<line x1="470.5" y1="387.4" x2="476.5" y2="387.4" stroke="#000" stroke-width="1.3" />
<line x1="470.5" y1="391.7" x2="476.5" y2="391.7" stroke="#000" stroke-width="1.3" />
<rect x="488.70" y="392.00" width="10.60" height="86.50" fill="#fff" stroke="#000" stroke-width="1.4"/>
<rect x="503.30" y="388.70" width="10.60" height="89.80" fill="#000" stroke="#000" stroke-width="1.4"/>
<rect x="517.90" y="384.20" width="10.60" height="94.30" fill="#a1a0a5" stroke="#000" stroke-width="1.4"/>
<line x1="494.0" y1="389.3" x2="494.0" y2="393.2" stroke="#000" stroke-width="1.3" />
<line x1="491.0" y1="389.3" x2="497.0" y2="389.3" stroke="#000" stroke-width="1.3" />
<line x1="491.0" y1="393.2" x2="497.0" y2="393.2" stroke="#000" stroke-width="1.3" />
<line x1="508.6" y1="383.5" x2="508.6" y2="392.5" stroke="#000" stroke-width="1.3" />
<line x1="505.6" y1="383.5" x2="511.6" y2="383.5" stroke="#000" stroke-width="1.3" />
<line x1="505.6" y1="392.5" x2="511.6" y2="392.5" stroke="#000" stroke-width="1.3" />
<line x1="523.2" y1="379.5" x2="523.2" y2="387" stroke="#000" stroke-width="1.3" />
<line x1="520.2" y1="379.5" x2="526.2" y2="379.5" stroke="#000" stroke-width="1.3" />
<line x1="520.2" y1="387" x2="526.2" y2="387" stroke="#000" stroke-width="1.3" />
<line x1="584.2" y1="343.9" x2="584.2" y2="479.3" stroke="#222" stroke-width="1.4" />
<line x1="583.5" y1="478.6" x2="786.2" y2="478.6" stroke="#222" stroke-width="1.4" />
<line x1="580" y1="478.8" x2="584.2" y2="478.8" stroke="#222" stroke-width="1.2" />
<text x="579.0" y="482.7" font-size="11" text-anchor="end" >0</text>
<line x1="580" y1="451.82" x2="584.2" y2="451.82" stroke="#222" stroke-width="1.2" />
<text x="579.0" y="455.71999999999997" font-size="11" text-anchor="end" >2</text>
<line x1="580" y1="424.84000000000003" x2="584.2" y2="424.84000000000003" stroke="#222" stroke-width="1.2" />
<text x="579.0" y="428.74" font-size="11" text-anchor="end" >4</text>
<line x1="580" y1="397.86" x2="584.2" y2="397.86" stroke="#222" stroke-width="1.2" />
<text x="579.0" y="401.76" font-size="11" text-anchor="end" >6</text>
<line x1="580" y1="370.88" x2="584.2" y2="370.88" stroke="#222" stroke-width="1.2" />
<text x="579.0" y="374.78" font-size="11" text-anchor="end" >8</text>
<line x1="580" y1="343.9" x2="584.2" y2="343.9" stroke="#222" stroke-width="1.2" />
<text x="579.0" y="347.79999999999995" font-size="11" text-anchor="end" >10</text>
<line x1="632.4" y1="478.6" x2="632.4" y2="483" stroke="#222" stroke-width="1.3" />
<text x="632.4" y="493.6" font-size="10.8" text-anchor="middle" textLength="34.8" lengthAdjust="spacingAndGlyphs" >Fasting</text>
<line x1="738.3" y1="478.6" x2="738.3" y2="483" stroke="#222" stroke-width="1.3" />
<text x="738.3" y="493.6" font-size="10.8" text-anchor="middle" textLength="59.3" lengthAdjust="spacingAndGlyphs" >Postprandial</text>
<text x="554.6" y="409.4" font-size="10.2" text-anchor="middle" textLength="67.3" lengthAdjust="spacingAndGlyphs" transform="rotate(-90 554.6 409.4)" >Insulin (mg/dL)</text>
<text x="685.4" y="323.1" font-size="15.5" font-weight="bold" text-anchor="middle" textLength="49.2" lengthAdjust="spacingAndGlyphs" >Insulin</text>
<rect x="594.70" y="470.80" width="17.80" height="7.60" fill="#fff" stroke="#000" stroke-width="1.4"/>
<rect x="623.70" y="467.50" width="17.40" height="10.90" fill="#000" stroke="#000" stroke-width="1.4"/>
<rect x="652.40" y="470.80" width="17.70" height="7.60" fill="#a1a0a5" stroke="#000" stroke-width="1.4"/>
<rect x="701.00" y="448.90" width="16.80" height="29.50" fill="#fff" stroke="#000" stroke-width="1.4"/>
<rect x="729.30" y="403.50" width="17.70" height="74.90" fill="#000" stroke="#000" stroke-width="1.4"/>
<rect x="758.30" y="395.20" width="17.40" height="83.20" fill="#a1a0a5" stroke="#000" stroke-width="1.4"/>
<line x1="603.6" y1="464" x2="603.6" y2="476.3" stroke="#000" stroke-width="1.3" />
<line x1="598.6" y1="464" x2="608.6" y2="464" stroke="#000" stroke-width="1.3" />
<line x1="598.6" y1="476.3" x2="608.6" y2="476.3" stroke="#000" stroke-width="1.3" />
<line x1="632.4" y1="464" x2="632.4" y2="470.8" stroke="#000" stroke-width="1.3" />
<line x1="627.4" y1="464" x2="637.4" y2="464" stroke="#000" stroke-width="1.3" />
<line x1="627.4" y1="470.8" x2="637.4" y2="470.8" stroke="#000" stroke-width="1.3" />
<line x1="661.25" y1="465.5" x2="661.25" y2="474.8" stroke="#000" stroke-width="1.3" />
<line x1="656.25" y1="465.5" x2="666.25" y2="465.5" stroke="#000" stroke-width="1.3" />
<line x1="656.25" y1="474.8" x2="666.25" y2="474.8" stroke="#000" stroke-width="1.3" />
<line x1="709.4" y1="437.9" x2="709.4" y2="459.1" stroke="#000" stroke-width="1.3" />
<line x1="704.4" y1="437.9" x2="714.4" y2="437.9" stroke="#000" stroke-width="1.3" />
<line x1="704.4" y1="459.1" x2="714.4" y2="459.1" stroke="#000" stroke-width="1.3" />
<line x1="738.1500000000001" y1="382.5" x2="738.1500000000001" y2="423.7" stroke="#000" stroke-width="1.3" />
<line x1="733.1500000000001" y1="382.5" x2="743.1500000000001" y2="382.5" stroke="#000" stroke-width="1.3" />
<line x1="733.1500000000001" y1="423.7" x2="743.1500000000001" y2="423.7" stroke="#000" stroke-width="1.3" />
<line x1="767.0" y1="374.5" x2="767.0" y2="413.9" stroke="#000" stroke-width="1.3" />
<line x1="762.0" y1="374.5" x2="772.0" y2="374.5" stroke="#000" stroke-width="1.3" />
<line x1="762.0" y1="413.9" x2="772.0" y2="413.9" stroke="#000" stroke-width="1.3" />
<line x1="709.2" y1="376.3" x2="737.9" y2="376.3" stroke="#000" stroke-width="1.3" />
<text x="724.2" y="381.64" font-size="22" text-anchor="middle" letter-spacing="0">**</text>
<line x1="709.2" y1="357.1" x2="766.9" y2="357.1" stroke="#000" stroke-width="1.3" />
<text x="738.1" y="363.44" font-size="22" text-anchor="middle" letter-spacing="0">***</text>
</svg>
</body></html>
